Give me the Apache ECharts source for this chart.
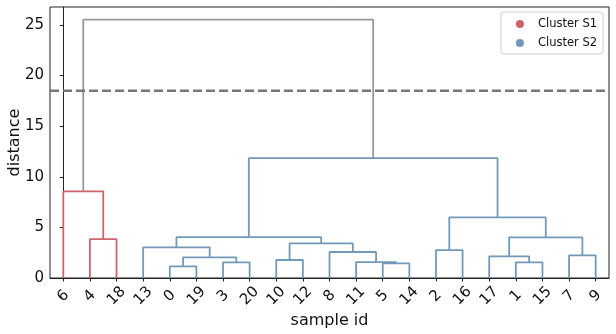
<!DOCTYPE html>
<html>
<head>
<meta charset="utf-8">
<script src="https://cdn.jsdelivr.net/npm/echarts@6/dist/echarts.min.js"></script>
<style>html,body{margin:0;padding:0;background:#fff}#c{width:616px;height:334px}</style>
</head>
<body>
<div id="c"></div>
<script>
// leaf order along the x axis (sample ids)
const leafLabels = ['6','4','18','13','0','19','3','20','10','12','8','11','5','14','2','16','17','1','15','7','9'];
// linkage: merge k creates cluster id 21+k from mergeA[k] and mergeB[k] at mergeHeight[k]
const mergeA = [0, 5, 3, 1, 11, 10, 21, 17, 7, 8, 2, 13, 26, 4, 28, 32, 31, 6, 36, 38];
const mergeB = [19, 14, 20, 15, 22, 12, 23, 24, 9, 25, 16, 27, 30, 18, 29, 33, 35, 34, 37, 39];
const mergeHeight = [1.15, 1.45, 1.55, 1.55, 1.57, 1.78, 2.04, 2.14, 2.24, 2.57, 2.76, 3.03, 3.42, 3.85, 4.02, 4.03, 5.99, 8.55, 11.84, 25.52];
const cutHeight = 18.5;
const clusterS1Leaves = ['6','4','18'];
const legendNames = ['Cluster S1', 'Cluster S2'];
const yTicks = [0, 5, 10, 15, 20, 25];

const colS1 = '#c23b40', colS2 = '#4e79a7';
const lineS1 = '#d0646b', lineS2 = '#7399b8', lineAbove = '#999999';

const nLeaves = leafLabels.length;
const nodeX = {}, nodeY = {}, nodeLeaves = {};
for (let i = 0; i < nLeaves; i++) {
  const id = Number(leafLabels[i]);
  nodeX[id] = i; nodeY[id] = 0; nodeLeaves[id] = [leafLabels[i]];
}
const series = [];
for (let k = 0; k < mergeA.length; k++) {
  const a = mergeA[k], b = mergeB[k], h = mergeHeight[k];
  const id = nLeaves + k;
  let l = a, r = b;
  if (nodeX[a] > nodeX[b]) { l = b; r = a; }
  nodeX[id] = (nodeX[a] + nodeX[b]) / 2;
  nodeY[id] = h;
  nodeLeaves[id] = nodeLeaves[a].concat(nodeLeaves[b]);
  let color;
  if (h > cutHeight) color = lineAbove;
  else color = nodeLeaves[id].some(s => clusterS1Leaves.includes(s)) ? lineS1 : lineS2;
  series.push({
    type: 'line', xAxisIndex: 1, yAxisIndex: 0, silent: true, symbol: 'none',
    lineStyle: { color: color, width: 1.8 }, z: 3,
    data: [[nodeX[l], nodeY[l]], [nodeX[l], h], [nodeX[r], h], [nodeX[r], nodeY[r]]]
  });
}
series.push({
  type: 'line', xAxisIndex: 1, yAxisIndex: 0, silent: true, symbol: 'none', z: 4,
  lineStyle: { color: '#777', width: 2.5, type: [9, 4] },
  data: [[-0.5, cutHeight], [nLeaves - 0.5, cutHeight]]
});
series.push({ type: 'scatter', name: legendNames[0], xAxisIndex: 1, data: [], itemStyle: { color: colS1 } });
series.push({ type: 'scatter', name: legendNames[1], xAxisIndex: 1, data: [], itemStyle: { color: colS2 } });

const font = 'DejaVu Sans';
const chart = echarts.init(document.getElementById('c'), null, { renderer: 'canvas' });
chart.setOption({
  animation: false,
  backgroundColor: '#fff',
  grid: { left: 50, right: 7, top: 7, bottom: 56, outerBoundsMode: 'none', containLabel: false,
    show: true, borderColor: '#222', borderWidth: 1, backgroundColor: 'transparent' },
  legend: {
    data: legendNames, orient: 'vertical', right: 13, top: 12,
    icon: 'circle', itemWidth: 8, itemHeight: 8, itemGap: 5,
    padding: [5, 6, 4, 15],
    borderColor: '#d0d0d0', borderWidth: 1, borderRadius: 3, backgroundColor: 'rgba(255,255,255,0.8)',
    textStyle: { fontFamily: font, fontSize: 11.5, color: '#111', padding: [0, 0, 0, 9], lineHeight: 14 }
  },
  xAxis: [
    {
      type: 'category', data: leafLabels, boundaryGap: true, position: 'bottom',
      name: 'sample id', nameLocation: 'middle', nameGap: 35, nameMoveOverlap: false,
      nameTextStyle: { fontFamily: font, fontSize: 16, color: '#111' },
      axisLine: { show: true, lineStyle: { color: '#222', width: 1 } },
      axisTick: { show: true, alignWithLabel: true, length: 3.5, lineStyle: { color: '#222' } },
      axisLabel: { interval: 0, rotate: 45, align: 'center', verticalAlign: 'middle', margin: 18,
        fontFamily: font, fontSize: 15, color: '#111' },
      splitLine: { show: false }
    },
    { type: 'value', min: -0.5, max: nLeaves - 0.5, show: false, splitLine: { show: false } }
  ],
  yAxis: {
    type: 'value', min: 0, max: 26.775,
    name: 'distance', nameLocation: 'middle', nameGap: 27, nameRotate: 90, nameMoveOverlap: false,
    nameTextStyle: { fontFamily: font, fontSize: 16, color: '#111' },
    axisLine: { show: true, lineStyle: { color: '#222', width: 1 } },
    axisTick: { show: true, length: 3.5, customValues: yTicks, lineStyle: { color: '#222' } },
    axisLabel: { customValues: yTicks, margin: 6, fontFamily: font, fontSize: 15, color: '#111' },
    splitLine: { show: false }
  },
  series: series
});
</script>
</body>
</html>
